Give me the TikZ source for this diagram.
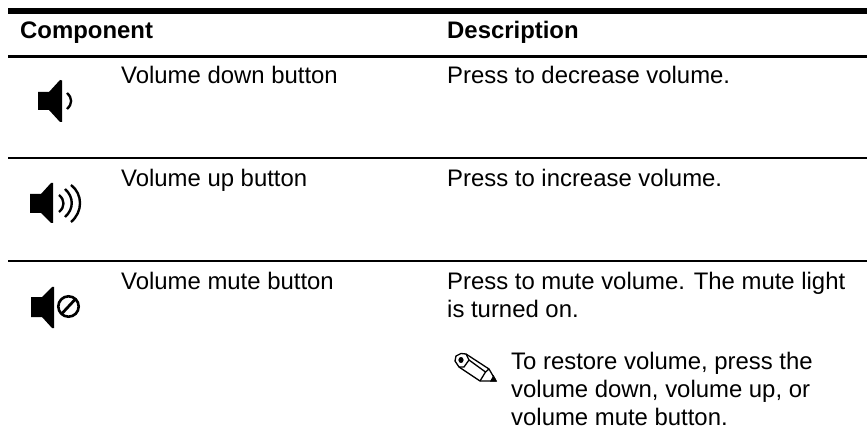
\documentclass[tikz,border=0pt]{standalone}
\usepackage{fontspec}
\setmainfont{Liberation Sans}
\tikzset{
  txt/.style={anchor=base west,inner sep=0pt,font=\fontsize{23.9}{28}\selectfont},
  head/.style={anchor=base west,inner sep=0pt,font=\fontsize{23.9}{28}\selectfont\bfseries},
  wave/.style={line width=2.4pt,line cap=butt},
  pencil/.style={line width=1.3pt,line join=round}
}
\begin{document}
\begin{tikzpicture}[x=1pt,y=-1pt,line cap=butt]
\useasboundingbox (0,0) rectangle (867,438);
\fill[black] (8,8) rectangle (867,14);
\fill[black] (8,55) rectangle (867,58);
\fill[black] (8,157.5) rectangle (867,158.7);
\fill[black] (8,260.5) rectangle (867,261.7);
\node[head] (h1) at (20,38.5) {Component};
\node[head] (h2) at (447,38.5) {Description};
\node[txt] (a1) at (121,84) {Volume down button};
\node[txt] (b1) at (447,84) {Press to decrease volume.};
\node[txt] (a2) at (121,187) {Volume up button};
\node[txt] (b2) at (447,187) {Press to increase volume.};
\node[txt] (a3) at (121,290) {Volume mute button};
\node[txt] (b3) at (447,290) {Press to mute volume. The mute light};
\node[txt] (b4) at (447,317) {is turned on.};
\node[txt] (c1) at (511,369) {To restore volume, press the};
\node[txt] (c2) at (511,397) {volume down, volume up, or};
\node[txt] (c3) at (511,425) {volume mute button.};
% speaker 1
\fill (38,92) -- (49,92) -- (60,80) -- (62,80.5) -- (62,122) -- (60,122) -- (49,110) -- (38,110) -- cycle;
\draw[wave] (67,93) .. controls (72.5,98) and (72.5,104) .. (67,109);
% speaker 2
\fill (30,194) -- (41,194) -- (51,183) -- (53,183) -- (53,223) -- (51,223) -- (41,213) -- (30,213) -- cycle;
\draw[wave] (59,195) .. controls (65,200) and (65,207) .. (59,212);
\draw[wave] (65,189) .. controls (74,197) and (74,209) .. (65,217);
\draw[wave] (71,185) .. controls (83,194) and (83,212) .. (71,222);
% speaker 3
\fill (31,297) -- (42,297) -- (52,287) -- (54,287) -- (54,328) -- (52,328) -- (42,317) -- (31,317) -- cycle;
\draw[line width=2.6pt] (68.5,306.5) circle (10.2);
\draw[line width=2.8pt] (61.5,314) -- (75.5,299);
% pencil
\draw[pencil] (456,356) -- (461,353.5) -- (466,354) -- (489,369) -- (496,381) -- (480,381) -- (459,367) -- (455,361) -- cycle;
\draw[pencil] (466,354) -- (469,360) -- (464,367) -- (459,367);
\draw[pencil] (469,360) -- (485.5,372) -- (480,381);
\draw[pencil] (485.5,372) -- (489,369);
\fill (461,360) ellipse (2.6 and 3);
\fill (490,381.5) -- (497,381.5) -- (493.5,375) -- cycle;
\end{tikzpicture}
\end{document}
